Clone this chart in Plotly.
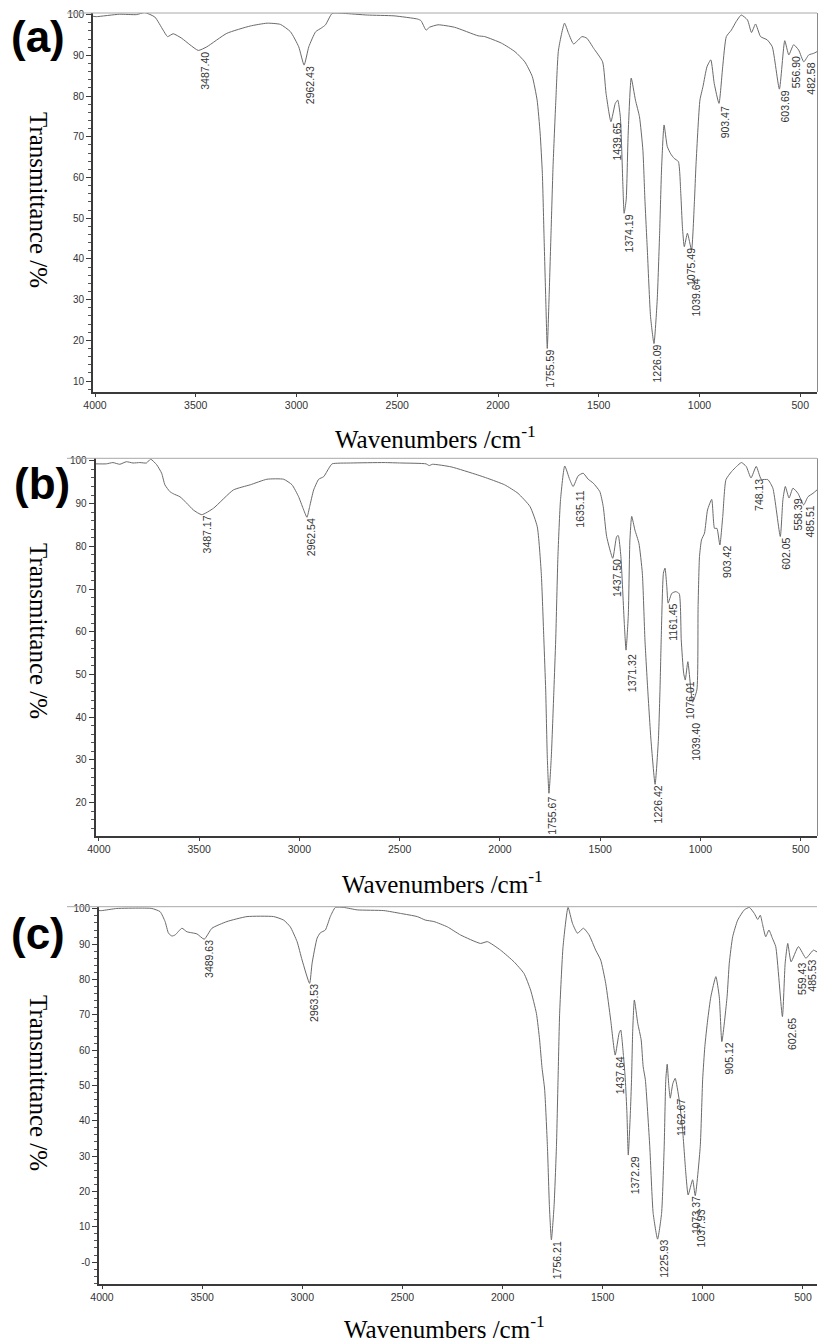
import plotly.graph_objects as go

W, H = 819, 1342

# ---------------- data (wavenumber cm-1, transmittance %) ----------------
wn_a = [4010, 3994, 3878, 3795, 3753, 3703, 3662, 3640, 3612, 3570,
        3529, 3487.40, 3445, 3346, 3230, 3146, 3080, 3030, 2989, 2962.43,
        2939, 2905, 2877, 2856, 2823, 2765, 2649, 2516, 2398, 2382,
        2357, 2340, 2298, 2216, 2099, 2066, 1983, 1916, 1867, 1830,
        1806, 1791, 1780, 1772, 1763, 1755.59, 1747, 1737, 1727, 1713,
        1700, 1670, 1650, 1625, 1583, 1559, 1525, 1481, 1464, 1439.65,
        1418, 1406, 1393, 1380, 1374.19, 1364, 1354, 1339, 1318, 1298,
        1281, 1271, 1259, 1243, 1226.09, 1210, 1198, 1188, 1176, 1160,
        1143, 1126, 1105, 1093, 1085, 1075.49, 1060, 1039.64, 1025, 1018,
        998, 983, 963, 944, 927, 903.47, 885, 867, 842, 818,
        793, 762, 742, 722, 697, 664, 639, 603.69, 577, 556.90,
        533, 508, 482.58, 458, 433, 417]
t_a = [99.6, 99.5, 100.1, 100.0, 100.5, 99.4, 96.2, 94.6, 95.3, 94.2,
       92.6, 91.2, 92.1, 95.4, 97.2, 97.9, 97.6, 95.8, 92.1, 87.6,
       92.1, 95.8, 96.7, 97.5, 100.3, 100.3, 99.9, 99.7, 98.9, 98.5,
       96.2, 96.9, 97.5, 96.9, 94.8, 94.6, 93.0, 90.9, 88.4, 84.8,
       79.0, 70.9, 61.0, 46.3, 29.9, 18.0, 29.9, 46.3, 62.6, 79.0,
       91.3, 97.9, 95.4, 92.8, 94.6, 94.2, 91.7, 88.4, 80.7, 73.7,
       78.2, 79.0, 74.9, 57.7, 51.2, 54.5, 70.9, 84.4, 79.0, 74.9,
       66.7, 54.5, 42.2, 25.8, 19.2, 29.9, 46.3, 62.6, 72.9, 67.6,
       65.8, 64.7, 63.9, 56.1, 47.9, 43.0, 46.3, 42.2, 54.5, 62.6,
       79.0, 82.3, 87.2, 88.9, 83.1, 78.2, 87.2, 94.6, 96.2, 98.3,
       99.9, 98.7, 95.6, 97.7, 94.6, 93.8, 92.1, 81.7, 93.6, 90.1,
       92.6, 91.3, 88.4, 90.1, 90.5, 90.9]

wn_b = [4017, 3963, 3930, 3896, 3863, 3830, 3796, 3763, 3742, 3712,
        3687, 3671, 3646, 3629, 3596, 3562, 3529, 3487.17, 3429, 3329,
        3245, 3162, 3079, 3037, 3004, 2982, 2962.54, 2949, 2929, 2904,
        2879, 2853, 2837, 2745, 2578, 2494, 2369, 2353, 2336, 2244,
        2111, 2061, 1977, 1910, 1850, 1814, 1794, 1781, 1772, 1764,
        1755.67, 1744, 1731, 1722, 1711, 1698, 1677, 1652, 1635.11, 1610,
        1585, 1560, 1535, 1502, 1485, 1468, 1437.50, 1418, 1410, 1397,
        1380, 1371.32, 1360, 1352, 1343, 1327, 1307, 1290, 1277, 1263,
        1247, 1226.42, 1210, 1202, 1196, 1185, 1177, 1168, 1161.45, 1143,
        1123, 1106, 1096, 1084, 1076.01, 1063, 1039.40, 1018, 1012, 1005,
        995, 980, 965, 944, 930, 918, 903.42, 889, 873, 845,
        820, 796, 772, 748.13, 722, 697, 664, 639, 602.05, 589,
        577, 558.39, 539, 514, 485.51, 464, 439, 419]
t_b = [99.3, 99.3, 99.6, 99.2, 99.8, 99.5, 99.6, 99.5, 100.4, 99.1,
       97.1, 94.4, 92.8, 92.3, 91.6, 90.1, 88.5, 87.4, 88.9, 93.2,
       94.4, 95.7, 95.7, 94.4, 91.6, 88.9, 86.8, 89.3, 93.2, 95.7,
       96.3, 98.3, 99.3, 99.5, 99.6, 99.5, 99.3, 98.9, 99.2, 98.6,
       96.7, 95.9, 94.4, 92.4, 89.3, 84.6, 73.7, 58.1, 46.4, 30.7,
       22.2, 30.7, 46.4, 58.1, 77.6, 90.9, 98.8, 95.6, 94.0, 96.5,
       97.1, 95.7, 94.8, 92.8, 89.3, 82.3, 77.2, 82.3, 82.5, 77.6,
       62.0, 55.7, 63.9, 81.5, 87.0, 83.8, 80.7, 73.7, 58.1, 46.4,
       34.7, 24.3, 34.7, 46.4, 58.1, 73.7, 74.9, 70.6, 66.7, 69.0,
       69.4, 68.9, 58.1, 50.3, 48.7, 53.0, 43.5, 46.4, 65.9, 77.6,
       81.5, 83.1, 88.5, 91.0, 84.2, 84.2, 80.3, 87.0, 95.6, 97.5,
       98.7, 99.6, 98.7, 96.0, 98.7, 95.7, 95.6, 93.6, 82.3, 90.9,
       94.0, 91.3, 93.6, 92.4, 89.7, 91.6, 92.4, 93.2]

wn_c = [4015, 4001, 3926, 3810, 3751, 3710, 3685, 3668, 3651, 3635,
        3601, 3576, 3526, 3489.63, 3451, 3376, 3276, 3143, 3093, 3060,
        3026, 3001, 2963.53, 2951, 2926, 2910, 2885, 2860, 2835, 2793,
        2726, 2593, 2510, 2426, 2385, 2343, 2276, 2210, 2110, 2076,
        2010, 1943, 1893, 1860, 1831, 1815, 1803, 1790, 1776, 1766,
        1756.21, 1743, 1731, 1723, 1715, 1698, 1673, 1651, 1626, 1596,
        1568, 1535, 1510, 1485, 1460, 1437.64, 1418, 1410, 1396, 1387,
        1379, 1372.29, 1362, 1356, 1350, 1342, 1325, 1308, 1298, 1287,
        1265, 1248, 1225.93, 1206, 1193, 1185, 1178, 1170, 1162.67, 1150,
        1138, 1118, 1101, 1085, 1073.37, 1051, 1037.93, 1013, 1001, 990,
        976, 960, 935, 918, 905.12, 879, 868, 851, 826, 793,
        768, 743, 726, 713, 703, 686, 670, 653, 636, 602.65,
        589, 576, 559.43, 523, 485.53, 470, 448, 430]
t_c = [99.5, 99.5, 100.1, 100.2, 100.1, 99.2, 96.4, 93.1, 92.3, 92.6,
       94.5, 93.5, 92.9, 91.4, 94.5, 96.4, 97.8, 97.8, 96.8, 94.9,
       90.7, 85.5, 78.9, 84.6, 91.7, 93.2, 94.0, 97.8, 100.4, 100.4,
       99.7, 99.5, 98.7, 97.8, 96.8, 96.4, 94.9, 92.6, 90.2, 90.7,
       88.3, 85.0, 81.7, 77.0, 70.4, 62.9, 55.0, 49.0, 32.7, 15.7,
       6.3, 15.7, 32.7, 51.6, 70.4, 89.3, 100.4, 95.9, 93.1, 94.5,
       92.6, 88.3, 85.5, 78.9, 68.5, 58.6, 64.8, 65.7, 58.2, 51.6,
       42.1, 30.3, 42.1, 51.6, 65.7, 74.2, 67.6, 62.9, 55.3, 51.6,
       32.7, 13.8, 6.5, 13.8, 32.7, 51.6, 56.0, 50.0, 46.4, 50.5,
       52.0, 45.9, 37.4, 25.2, 19.0, 23.3, 18.8, 32.7, 51.6, 61.0,
       68.5, 75.1, 80.8, 75.1, 62.4, 75.1, 84.6, 92.1, 96.8, 99.7,
       100.4, 98.7, 97.0, 98.2, 95.9, 92.1, 94.0, 91.7, 89.3, 69.5,
       84.6, 90.2, 85.0, 89.3, 86.0, 86.9, 88.3, 87.8]

peaks_a = ["3487.40", "2962.43", "1755.59", "1439.65", "1374.19", "1226.09",
           "1075.49", "1039.64", "903.47", "603.69", "556.90", "482.58"]
peaks_b = ["3487.17", "2962.54", "1755.67", "1635.11", "1437.50", "1371.32",
           "1226.42", "1161.45", "1076.01", "1039.40", "903.42", "748.13",
           "602.05", "558.39", "485.51"]
peaks_c = ["3489.63", "2963.53", "1756.21", "1437.64", "1372.29", "1225.93",
           "1162.67", "1073.37", "1037.93", "905.12", "602.65", "559.43", "485.53"]

x_ticks = [4000, 3500, 3000, 2500, 2000, 1500, 1000, 500]

# ---------------- layout helpers (pixel offsets of peak labels) ----------------
shift_a = {"3487.40": (7, 0), "2962.43": (6, 0), "1755.59": (3, 0), "1439.65": (6, 0),
           "1374.19": (5, 0), "1226.09": (3, 0), "1075.49": (6, 0), "1039.64": (4, -28),
           "903.47": (6, -2), "603.69": (6, 0), "556.90": (7.5, 0), "482.58": (7, 0)}
shift_b = {"3487.17": (5, 0), "2962.54": (4, 0), "1755.67": (3.5, -2), "1635.11": (6.5, -3),
           "1437.50": (5, 0), "1371.32": (6, -3), "1226.42": (3, 0), "1161.45": (5, 0),
           "1076.01": (5, 0), "1039.40": (4, -20), "903.42": (7, 0), "748.13": (8, 0),
           "602.05": (6, 0), "558.39": (8.5, 0), "485.51": (6, 0)}
shift_c = {"3489.63": (4.5, 0), "2963.53": (5, 0), "1756.21": (5, 0), "1437.64": (5, 0),
           "1372.29": (7, 0), "1225.93": (7, 0), "1162.67": (10, 0), "1073.37": (8, 0),
           "1037.93": (6, -12.5), "905.12": (7, 0), "602.65": (9, 0), "559.43": (11, 0),
           "485.53": (6.5, 0)}

panels = [
    dict(wn=wn_a, t=t_a, peaks=peaks_a, shifts=shift_a, xr=[4010, 417], yr=[7.3, 100.4],
         xpx=[93, 817], ypx=[13, 392], yt=list(range(10, 101, 10)), ytt=None,
         letter="(a)", lpos=(38, 36), ytitle=(39, 200), xtitle=(435, 437), rline=True),
    dict(wn=wn_b, t=t_b, peaks=peaks_b, shifts=shift_b, xr=[4017, 419], yr=[12.2, 100.6],
         xpx=[95.5, 817], ypx=[458.3, 836], yt=list(range(20, 101, 10)), ytt=None,
         letter="(b)", lpos=(42, 483), ytitle=(39, 631), xtitle=(442, 882), rline=True),
    dict(wn=wn_c, t=t_c, peaks=peaks_c, shifts=shift_c, xr=[4015, 430], yr=[-6.2, 100.6],
         xpx=[99, 817], ypx=[906.7, 1284], yt=list(range(0, 101, 10)),
         ytt=["-0"] + [str(v) for v in range(10, 101, 10)],
         letter="(c)", lpos=(38, 934), ytitle=(39, 1083), xtitle=(445, 1327), rline=False),
]

def px(x):
    return x / W

def py(y):
    return 1 - y / H

fig = go.Figure()
annotations = []
shapes = []
AX = "#3a3a3a"
SANS = "Liberation Sans, Arial, sans-serif"
SERIF = "Liberation Serif, Times New Roman, serif"
TICKFONT = dict(family=SANS, size=10.5, color="#333")

for i, p in enumerate(panels, start=1):
    sfx = "" if i == 1 else str(i)
    fig.add_trace(go.Scatter(x=p["wn"], y=p["t"], mode="lines",
                             line=dict(color="#6a6a6a", width=1, shape="spline", smoothing=0.5),
                             xaxis="x" + sfx, yaxis="y" + sfx,
                             showlegend=False, hoverinfo="skip"))
    xa = dict(domain=[px(p["xpx"][0]), px(p["xpx"][1])], range=p["xr"],
              anchor="y" + sfx, showgrid=False, zeroline=False, automargin=False,
              showline=True, linecolor=AX, linewidth=1.6,
              ticks="outside", ticklen=3, tickwidth=1, tickcolor=AX,
              tickvals=x_ticks, ticktext=[str(v) for v in x_ticks],
              tickfont=TICKFONT)
    ya = dict(domain=[py(p["ypx"][1]), py(p["ypx"][0])], range=p["yr"],
              anchor="x" + sfx, showgrid=False, zeroline=False, automargin=False,
              showline=True, linecolor=AX, linewidth=1.6,
              ticks="outside", ticklen=5, tickwidth=1, tickcolor=AX,
              tickvals=p["yt"], ticktext=p["ytt"] if p["ytt"] else [str(v) for v in p["yt"]],
              tickfont=dict(family=SANS, size=10, color="#333"),
              minor=dict(dtick=2, ticks="outside", ticklen=3, tickwidth=1, tickcolor="#555"))
    fig.layout["xaxis" + sfx] = xa
    fig.layout["yaxis" + sfx] = ya

    # frame lines (top and right)
    shapes.append(dict(type="line", xref="paper", yref="paper",
                       x0=px(67), x1=px(817), y0=py(p["ypx"][0]), y1=py(p["ypx"][0]),
                       line=dict(color="#a8a8a8", width=1)))
    if p["rline"]:
        shapes.append(dict(type="line", xref="paper", yref="paper",
                           x0=px(817.5), x1=px(817.5), y0=py(p["ypx"][0]), y1=py(p["ypx"][1]),
                           line=dict(color="#8a8a8a", width=1)))

    # peak labels
    for lab in p["peaks"]:
        v = float(lab)
        idx = min(range(len(p["wn"])), key=lambda k: abs(p["wn"][k] - v))
        xs, ys = p["shifts"][lab]
        annotations.append(dict(x=p["wn"][idx], y=p["t"][idx], xref="x" + sfx, yref="y" + sfx,
                                text=lab, showarrow=False, textangle=-90,
                                xanchor="center", yanchor="top", xshift=xs, yshift=ys,
                                borderpad=0,
                                font=dict(family=SANS, size=10.5, color="#333")))

    # panel letter
    annotations.append(dict(x=px(p["lpos"][0]), y=py(p["lpos"][1]), xref="paper", yref="paper",
                            text="<b>" + p["letter"] + "</b>", showarrow=False,
                            xanchor="center", yanchor="middle",
                            font=dict(family=SANS, size=44, color="black")))
    # y title (reads top to bottom)
    annotations.append(dict(x=px(p["ytitle"][0]), y=py(p["ytitle"][1]), xref="paper", yref="paper",
                            text="Transmittance /%", showarrow=False, textangle=90,
                            xanchor="center", yanchor="middle",
                            font=dict(family=SERIF, size=25, color="black")))
    # x title
    annotations.append(dict(x=px(p["xtitle"][0]), y=py(p["xtitle"][1]), xref="paper", yref="paper",
                            text="Wavenumbers /cm<sup>-1</sup>", showarrow=False,
                            xanchor="center", yanchor="middle",
                            font=dict(family=SERIF, size=25, color="black")))

fig.update_layout(width=W, height=H, autosize=False,
                  margin=dict(l=0, r=0, t=0, b=0, pad=0),
                  paper_bgcolor="white", plot_bgcolor="white",
                  showlegend=False, annotations=annotations, shapes=shapes)

reset_js = ("var s=document.documentElement.style;s.margin='0';s.padding='0';s.overflow='hidden';"
            "var b=document.body.style;b.margin='0';b.padding='0';b.overflow='hidden';"
            "window.scrollTo(0,0);")
fig.write_html("out.html", config={"displayModeBar": False}, post_script=reset_js)
